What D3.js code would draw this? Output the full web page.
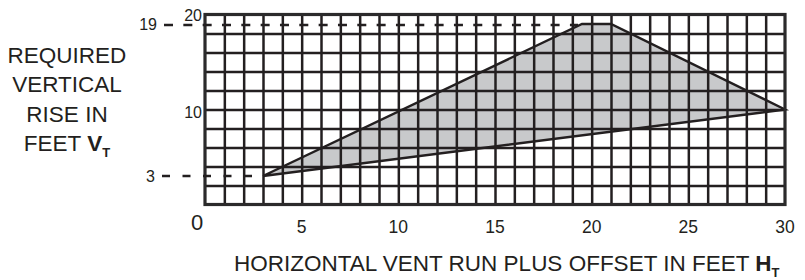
<!DOCTYPE html>
<html>
<head>
<meta charset="utf-8">
<script src="https://cdn.jsdelivr.net/npm/d3@7"></script>
<style>
  body { margin: 0; background: #fff; }
  svg text { font-family: "Liberation Sans", Arial, sans-serif; fill: #231f20; }
</style>
</head>
<body>
<svg id="chart" width="805" height="280"></svg>
<script>
// values
const xTickValues = [5, 10, 15, 20, 25, 30];
const yTickValues = [10, 20];
const regionH = [3, 19.5, 21, 30, 3];
const regionV = [3, 19, 19, 10, 3];
const refV = [3, 19];        // dashed guide lines
const refEndH = [3, 19.5];
const yTitleLines = ["REQUIRED", "VERTICAL", "RISE IN", "FEET"];

const ink = "#231f20";
const svg = d3.select("#chart");

const x = d3.scaleLinear().domain([0, 30]).range([205, 785]);
const y = d3.scaleLinear().domain([0, 20]).range([204.5, 14.5]);

// shaded region
const line = d3.line().x((d, i) => x(regionH[i])).y((d, i) => y(regionV[i]));
svg.append("path")
  .attr("d", line(regionH))
  .attr("fill", "#c8c9cb")
  .attr("stroke", "none");

// grid: 1 ft columns, 2 ft rows
const gx = svg.append("g")
  .attr("transform", "translate(0," + y(0) + ")")
  .call(d3.axisBottom(x).tickValues(d3.range(1, 30)).tickSize(-(y(0) - y(20))).tickFormat(""));
const gy = svg.append("g")
  .attr("transform", "translate(" + x(0) + ",0)")
  .call(d3.axisLeft(y).tickValues(d3.range(2, 20, 2)).tickSize(-(x(30) - x(0))).tickFormat(""));
[gx, gy].forEach(g => {
  g.select(".domain").remove();
  g.selectAll("line").attr("stroke", ink).attr("stroke-width", 2.5);
});

// region outline
svg.append("path")
  .attr("d", line(regionH))
  .attr("fill", "none")
  .attr("stroke", ink)
  .attr("stroke-width", 2.4)
  .attr("stroke-linejoin", "miter");

// frame
svg.append("rect")
  .attr("x", x(0)).attr("y", y(20))
  .attr("width", x(30) - x(0)).attr("height", y(0) - y(20))
  .attr("fill", "none").attr("stroke", "#2b2a2b").attr("stroke-width", 3.2);

// dashed guides
svg.append("line")
  .attr("x1", 162).attr("x2", x(refEndH[0]))
  .attr("y1", y(refV[0])).attr("y2", y(refV[0]))
  .attr("stroke", ink).attr("stroke-width", 2.4).attr("stroke-dasharray", "8,12.5");
svg.append("line")
  .attr("x1", 164).attr("x2", x(refEndH[1]) - 4)
  .attr("y1", y(refV[1]) + 1).attr("y2", y(refV[1]) + 1)
  .attr("stroke", ink).attr("stroke-width", 2.4).attr("stroke-dasharray", "9,10.33");

// tick labels
svg.selectAll(".xl").data(xTickValues).enter().append("text")
  .attr("x", d => x(d)).attr("y", 233)
  .attr("text-anchor", "middle").attr("font-size", 17.5)
  .text(d => d);
svg.append("text").attr("x", 197).attr("y", 230)
  .attr("text-anchor", "middle").attr("font-size", 22).text("0");
svg.selectAll(".yl").data(yTickValues).enter().append("text")
  .attr("x", 202).attr("y", d => y(d) + (d === 20 ? 6 : 8))
  .attr("text-anchor", "end").attr("font-size", 16)
  .text(d => d);
svg.selectAll(".rl").data(refV).enter().append("text")
  .attr("x", d => d === 3 ? 155 : 157).attr("y", d => y(d) + 6)
  .attr("text-anchor", "end").attr("font-size", 16)
  .text(d => d);

// axis titles
const yt = svg.append("text").attr("font-size", 22.5).attr("text-anchor", "middle");
yTitleLines.forEach((t, i) => {
  const ts = yt.append("tspan").attr("x", 67).attr("y", 63 + i * 29.3).text(t);
  if (i === 3) {
    ts.text(t + " ");
    yt.append("tspan").attr("font-weight", "bold").text("V");
    yt.append("tspan").attr("font-weight", "bold").attr("font-size", 13).attr("dy", 6).text("T");
  }
});

const xt = svg.append("text").attr("x", 234).attr("y", 271).attr("font-size", 22.5);
xt.append("tspan").text("HORIZONTAL VENT RUN PLUS OFFSET IN FEET ");
xt.append("tspan").attr("font-weight", "bold").text("H");
xt.append("tspan").attr("font-weight", "bold").attr("font-size", 13).attr("dy", 6).text("T");
</script>
</body>
</html>
